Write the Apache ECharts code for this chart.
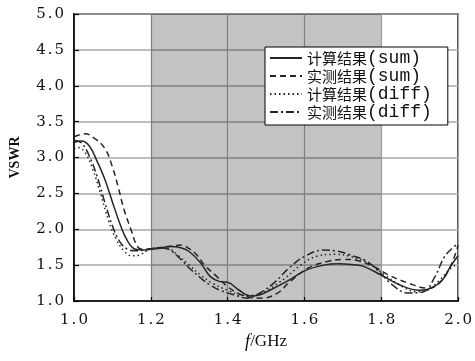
<!DOCTYPE html>
<html>
<head>
<meta charset="utf-8">
<script src="https://cdn.jsdelivr.net/npm/echarts@6/dist/echarts.min.js"></script>
<style>
  html, body { margin: 0; padding: 0; background: #fff; }
  #chart { width: 475px; height: 361px; }
</style>
</head>
<body>
<div id="chart"></div>
<script>
// Frequency (GHz) / VSWR pairs for each curve
const calcSum = [
  [1.00, 3.21], [1.02, 3.23], [1.04, 3.16], [1.06, 2.95], [1.08, 2.70], [1.10, 2.38],
  [1.12, 2.07], [1.14, 1.83], [1.16, 1.72], [1.18, 1.71], [1.20, 1.72], [1.22, 1.73],
  [1.25, 1.76], [1.28, 1.74], [1.30, 1.69], [1.33, 1.53], [1.355, 1.34], [1.38, 1.27],
  [1.40, 1.26], [1.43, 1.15], [1.46, 1.07], [1.48, 1.08], [1.51, 1.15], [1.56, 1.29],
  [1.60, 1.42], [1.65, 1.50], [1.69, 1.52], [1.72, 1.51], [1.75, 1.49], [1.80, 1.36],
  [1.85, 1.22], [1.90, 1.15], [1.93, 1.18], [1.96, 1.30], [1.98, 1.48], [2.00, 1.63]
];
const measSum = [
  [1.00, 3.29], [1.03, 3.33], [1.05, 3.28], [1.08, 3.13], [1.10, 2.87], [1.115, 2.59],
  [1.13, 2.28], [1.15, 1.97], [1.165, 1.76], [1.18, 1.72], [1.20, 1.73], [1.23, 1.75],
  [1.26, 1.77], [1.28, 1.78], [1.30, 1.73], [1.32, 1.64], [1.34, 1.50], [1.37, 1.35],
  [1.40, 1.20], [1.43, 1.10], [1.46, 1.05], [1.49, 1.04], [1.53, 1.11], [1.56, 1.26],
  [1.61, 1.46], [1.66, 1.55], [1.70, 1.58], [1.74, 1.56], [1.78, 1.48], [1.82, 1.36],
  [1.87, 1.25], [1.92, 1.18], [1.95, 1.24], [1.98, 1.48], [2.00, 1.78]
];
const calcDiff = [
  [1.00, 3.12], [1.01, 3.14], [1.03, 3.06], [1.05, 2.82], [1.07, 2.48], [1.09, 2.12],
  [1.11, 1.86], [1.13, 1.70], [1.15, 1.63], [1.17, 1.64], [1.19, 1.70], [1.21, 1.74],
  [1.24, 1.74], [1.27, 1.64], [1.30, 1.50], [1.33, 1.36], [1.36, 1.25], [1.40, 1.15],
  [1.44, 1.08], [1.47, 1.08], [1.50, 1.14], [1.55, 1.32], [1.59, 1.50], [1.63, 1.62],
  [1.68, 1.65], [1.72, 1.62], [1.77, 1.52], [1.81, 1.36], [1.85, 1.22], [1.89, 1.13],
  [1.92, 1.15], [1.95, 1.28], [1.98, 1.45], [2.00, 1.52]
];
const measDiff = [
  [1.00, 3.24], [1.02, 3.20], [1.04, 3.02], [1.06, 2.74], [1.08, 2.38], [1.10, 2.05],
  [1.12, 1.82], [1.14, 1.72], [1.16, 1.70], [1.18, 1.71], [1.20, 1.73], [1.23, 1.74],
  [1.25, 1.71], [1.28, 1.57], [1.30, 1.46], [1.33, 1.32], [1.355, 1.22], [1.38, 1.15],
  [1.42, 1.08], [1.45, 1.04], [1.48, 1.10], [1.52, 1.25], [1.56, 1.46], [1.60, 1.62],
  [1.65, 1.71], [1.68, 1.70], [1.72, 1.64], [1.76, 1.56], [1.79, 1.43], [1.83, 1.22],
  [1.87, 1.11], [1.91, 1.13], [1.94, 1.34], [1.965, 1.62], [1.99, 1.76], [2.00, 1.80]
];

const seriesNames = ['计算结果(sum)', '实测结果(sum)', '计算结果(diff)', '实测结果(diff)'];
const passBand = [1.2, 1.8];
const xTicks = { min: 1.0, max: 2.0, step: 0.2 };
const yTicks = { min: 1.0, max: 5.0, step: 0.5 };

const MONO = '"Liberation Mono", "DejaVu Sans Mono", monospace';
const SERIF = '"DejaVu Serif", "Liberation Serif", serif';
const TIMES = '"Liberation Serif", serif';
const CJK = '"Noto Sans CJK SC", sans-serif';
const ink = '#262626';

// tick labels: digits with a little air around the decimal point
const tickRich = {
  d: { fontFamily: SERIF, fontSize: 15, color: '#111' },
  p: { fontFamily: SERIF, fontSize: 15, color: '#111', padding: [0, 2, 0, 2] }
};
function tickText(v) {
  const s = v.toFixed(1).split('.');
  return '{d|' + s[0] + '}{p|.}{d|' + s[1] + '}';
}

function curve(name, data, dash) {
  return {
    name: name,
    type: 'line',
    data: data,
    smooth: 0.4,
    showSymbol: false,
    symbol: 'none',
    z: 3,
    lineStyle: { color: ink, width: 1.5, type: dash },
    itemStyle: { color: ink }
  };
}

const chart = echarts.init(document.getElementById('chart'), null, { renderer: 'canvas' });

chart.setOption({
  animation: false,
  backgroundColor: '#fff',
  grid: {
    left: 73, right: 16, top: 14, bottom: 60,
    show: true, borderColor: '#000', borderWidth: 1.5, backgroundColor: 'transparent'
  },
  legend: {
    data: seriesNames,
    left: 265, top: 47,
    orient: 'vertical',
    backgroundColor: '#fff',
    borderColor: '#000',
    borderWidth: 1,
    borderRadius: 0,
    padding: [2, 16, 4, 4],
    itemWidth: 32,
    itemHeight: 14,
    itemGap: 0,
    itemStyle: { color: 'transparent', borderColor: 'transparent', borderWidth: 0 },
    formatter: function (n) {
      const i = n.indexOf('(');
      return '{c|' + n.slice(0, i) + '}{a|' + n.slice(i) + '}';
    },
    textStyle: {
      rich: {
        c: { fontFamily: CJK, fontSize: 15, color: '#111', lineHeight: 16 },
        a: { fontFamily: MONO, fontSize: 18, color: '#111', lineHeight: 16 }
      }
    }
  },
  xAxis: {
    type: 'value',
    min: xTicks.min, max: xTicks.max, interval: xTicks.step,
    name: '{i|f}{m|/GHz}',
    nameLocation: 'middle',
    nameGap: 31,
    nameTextStyle: {
      rich: {
        i: { fontFamily: TIMES, fontStyle: 'italic', fontSize: 18, color: '#111' },
        m: { fontFamily: TIMES, fontSize: 17, color: '#111' }
      }
    },
    axisLine: { lineStyle: { color: '#000', width: 1.5 } },
    axisTick: { inside: true, length: 4, lineStyle: { color: '#000', width: 1.2 } },
    axisLabel: { margin: 12, rich: tickRich, formatter: tickText },
    splitLine: { show: true, lineStyle: { color: '#a8a8a8', width: 1.2 } }
  },
  yAxis: {
    type: 'value',
    min: yTicks.min, max: yTicks.max, interval: yTicks.step,
    name: 'VSWR',
    nameLocation: 'middle',
    nameGap: 52,
    nameTextStyle: { fontFamily: TIMES, fontWeight: 'bold', fontSize: 14, color: '#111' },
    axisLine: { show: true, lineStyle: { color: '#000', width: 1.5 } },
    axisTick: { show: true, inside: true, length: 5, lineStyle: { color: '#000', width: 1.2 } },
    axisLabel: { margin: 10, rich: tickRich, formatter: tickText },
    splitLine: { show: true, lineStyle: { color: '#a8a8a8', width: 1.5 } }
  },
  series: [
    {
      name: 'band',
      type: 'line',
      data: [],
      z: 1,
      silent: true,
      markArea: {
        silent: true,
        itemStyle: { color: 'rgba(0,0,0,0.235)' },
        data: [[{ xAxis: passBand[0] }, { xAxis: passBand[1] }]]
      }
    },
    curve(seriesNames[0], calcSum, 'solid'),
    curve(seriesNames[1], measSum, [6, 4]),
    curve(seriesNames[2], calcDiff, [1.5, 3]),
    curve(seriesNames[3], measDiff, [8, 3, 2, 3])
  ]
});
</script>
</body>
</html>
